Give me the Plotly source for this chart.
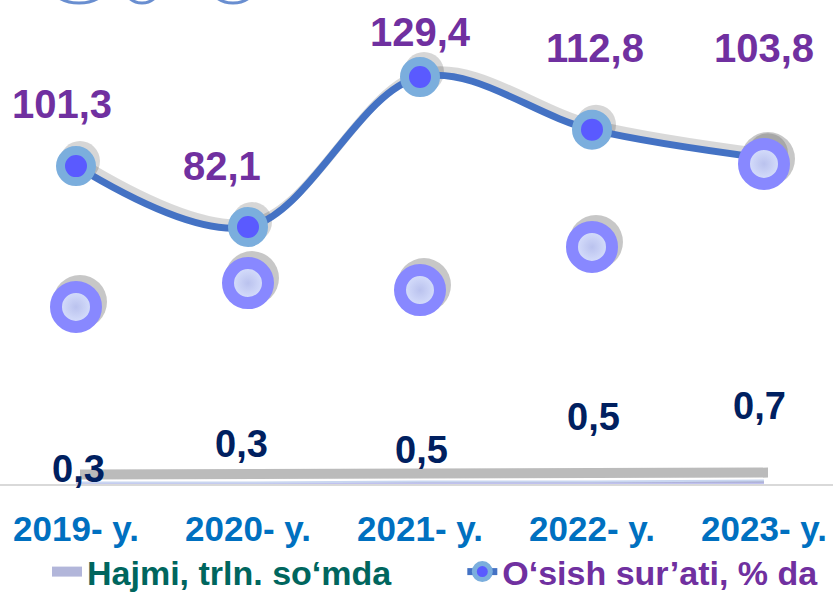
import plotly.graph_objects as go

# ---- data ----
categories = ["2019- y.", "2020- y.", "2021- y.", "2022- y.", "2023- y."]
hajmi = [0.3, 0.3, 0.5, 0.5, 0.7]            # Hajmi, trln. so'mda
osish = [101.3, 82.1, 129.4, 112.8, 103.8]     # O'sish sur'ati, % da
decor_y = [56.9, 64.4, 62.2, 75.8, 102.0]      # decorative spheres
hajmi_labels = ["0,3", "0,3", "0,5", "0,5", "0,7"]
osish_labels = ["101,3", "82,1", "129,4", "112,8", "103,8"]
series_names = ["Hajmi, trln. so‘mda", "O‘sish sur’ati, % da"]

xs = list(range(len(categories)))

FONT = "Liberation Sans"
W, H = 833, 601
PLOT_H = 484
PX_X = 172.0          # px per category
PX_Y2 = 3.171         # px per % unit
X_RANGE = [-76 / PX_X, 4 + (833 - 764) / PX_X]
Y2_RANGE = [1.05, 153.68]
Y_RANGE = [0, 100]
PX_Y = PLOT_H / (Y_RANGE[1] - Y_RANGE[0])
SH_DX, SH_DY = 4, 5   # shadow offset, px (right / up)

def shift(r, px, scale):
    return [r[0] - px / scale, r[1] - px / scale]

fig = go.Figure()

# ---- shadows (base subplot, drawn first) ----
fig.add_trace(go.Scatter(x=xs, y=hajmi, xaxis="x", yaxis="y", mode="lines",
                         line=dict(color="rgba(120,120,120,0.5)", width=10),
                         showlegend=False, hoverinfo="skip"))
fig.add_trace(go.Scatter(x=xs, y=osish, xaxis="x", yaxis="y2", mode="lines+markers",
                         line=dict(color="rgba(0,0,0,0.15)", width=8, shape="spline", smoothing=1),
                         marker=dict(size=40, color="rgba(0,0,0,0.16)", line=dict(width=0)),
                         showlegend=False, hoverinfo="skip"))
fig.add_trace(go.Scatter(x=xs, y=decor_y, xaxis="x", yaxis="y2", mode="markers",
                         marker=dict(size=54, color="rgba(0,0,0,0.22)", line=dict(width=0)),
                         showlegend=False, hoverinfo="skip"))

# ---- area series ----
fig.add_trace(go.Scatter(x=xs, y=hajmi, xaxis="x2", yaxis="y3", mode="lines",
                         name=series_names[0], legendgroup="hajmi", showlegend=False,
                         fill="tozeroy",
                         line=dict(color="#C9D6F0", width=2),
                         fillgradient=dict(type="vertical",
                                           colorscale=[[0, "#C8C8FA"], [1, "#9298B2"]]),
                         hoverinfo="skip"))
# legend swatch for the area series
fig.add_trace(go.Scatter(x=[None], y=[None], xaxis="x2", yaxis="y3", mode="lines",
                         legendgroup="hajmi",
                         name='<b><span style="color:#00665E">' + series_names[0] + '</span></b>'
                              + "&nbsp;" * 7,
                         line=dict(color="#B2B6DA", width=18), hoverinfo="skip"))

# ---- growth line ----
fig.add_trace(go.Scatter(x=xs, y=osish, xaxis="x2", yaxis="y4", mode="lines+markers",
                         name='<b><span style="color:#7030A0">' + series_names[1] + '</span></b>',
                         line=dict(color="#4472C4", width=7, shape="spline", smoothing=1),
                         marker=dict(size=31, color="#5A5AFF",
                                     line=dict(color="#7BAEDD", width=9)),
                         hoverinfo="skip"))

# ---- decorative spheres ----
fig.add_trace(go.Scatter(x=xs, y=decor_y, xaxis="x2", yaxis="y4", mode="markers",
                         marker=dict(size=40, color="#DDE5FF",
                                     gradient=dict(type="radial", color="#BAC2EE"),
                                     line=dict(color="#8888FF", width=12)),
                         showlegend=False, hoverinfo="skip"))

# ---- labels ----
osish_off = [(-14, -62), (-26, -61), (0, -45), (3, -82), (0, -110)]
hajmi_off = [(2, -14), (-7, -39), (1, -32), (1, -65), (-5, -75)]
ann = []
for i in xs:
    dx, dy = osish_off[i]
    ann.append(dict(x=xs[i], y=osish[i], xref="x2", yref="y4", text="<b>" + osish_labels[i] + "</b>",
                    showarrow=False, xshift=dx, yshift=-dy, xanchor="center", yanchor="middle",
                    font=dict(family=FONT, size=40, color="#7030A0")))
    dx, dy = hajmi_off[i]
    ann.append(dict(x=xs[i], y=hajmi[i], xref="x2", yref="y3", text="<b>" + hajmi_labels[i] + "</b>",
                    showarrow=False, xshift=dx, yshift=-dy, xanchor="center", yanchor="middle",
                    font=dict(family=FONT, size=38, color="#002060")))

# ---- decorative rings cut off at the top ----
shapes = []
for x0, x1 in [(48, 110), (122, 162), (208, 258)]:
    shapes.append(dict(type="circle", xref="paper", yref="paper",
                       x0=x0 / W, x1=x1 / W,
                       y0=(PLOT_H - 3) / PLOT_H, y1=(PLOT_H + 40) / PLOT_H,
                       line=dict(color="rgba(68,114,196,0.8)", width=3),
                       fillcolor="rgba(0,0,0,0)", layer="above"))

fig.update_layout(
    width=W, height=H,
    margin=dict(l=0, r=0, t=0, b=H - PLOT_H, autoexpand=False),
    paper_bgcolor="white", plot_bgcolor="white",
    font=dict(family=FONT),
    # shadow axes (base)
    xaxis=dict(range=shift(X_RANGE, SH_DX, PX_X), visible=False),
    yaxis=dict(range=shift(Y_RANGE, 8, PX_Y), visible=False),
    yaxis2=dict(range=shift(Y2_RANGE, SH_DY, PX_Y2), overlaying="y", visible=False),
    # main axes
    xaxis2=dict(range=X_RANGE, overlaying="x", anchor="y3", side="bottom",
                tickvals=xs, ticktext=["<b>" + c + "</b>" for c in categories],
                showgrid=False, zeroline=False, showline=True, linecolor="#D9D9D9",
                linewidth=2, ticks="", ticklabelstandoff=13,
                tickfont=dict(family=FONT, size=35, color="#0070C0")),
    yaxis3=dict(range=Y_RANGE, overlaying="y", visible=False),
    yaxis4=dict(range=Y2_RANGE, overlaying="y", visible=False),
    showlegend=True,
    legend=dict(orientation="h", x=47 / W, xanchor="left",
                y=-(H - PLOT_H) / PLOT_H, yanchor="bottom",
                font=dict(family=FONT, size=34),
                itemsizing="trace", bgcolor="rgba(0,0,0,0)"),
    annotations=ann,
    shapes=shapes,
)

fig.write_html("out.html", config={"displayModeBar": False},
               post_script="document.body.style.margin='0';")
